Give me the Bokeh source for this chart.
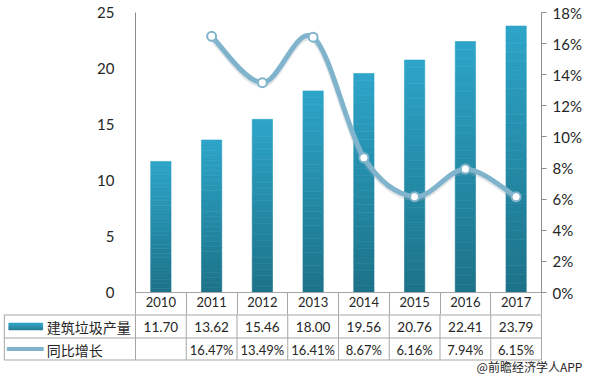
import numpy as np
from bokeh.plotting import figure
from bokeh.models import Range1d, LinearAxis, FixedTicker, PrintfTickFormatter
from bokeh.layouts import column
from bokeh.embed import file_html
from bokeh.resources import INLINE
from bokeh.core.properties import value

# ---------------- data ----------------
years = ["2010", "2011", "2012", "2013", "2014", "2015", "2016", "2017"]
output = [11.70, 13.62, 15.46, 18.00, 19.56, 20.76, 22.41, 23.79]
output_labels = ["11.70", "13.62", "15.46", "18.00", "19.56", "20.76", "22.41", "23.79"]
growth = [None, 16.47, 13.49, 16.41, 8.67, 6.16, 7.94, 6.15]
growth_labels = ["", "16.47%", "13.49%", "16.41%", "8.67%", "6.16%", "7.94%", "6.15%"]
left_ticks = [0, 5, 10, 15, 20, 25]
right_ticks = [0, 2, 4, 6, 8, 10, 12, 14, 16, 18]
series1_name = "建筑垃圾产量"
series2_name = "同比增长"
credit = "@前瞻经济学人APP"

# ---------------- layout constants ----------------
W = 584
FL, FR = 135, 542
TOP = 12
FB = 292
HDR = 22
CH = FB + HDR
TH = 376 - CH
NC = len(years)
PX = (FR - FL) / NC

BAR_BOT = np.array([0x1c, 0x72, 0x88])
BAR_TOP = np.array([0x2d, 0xa5, 0xc9])
LINE_C = "#80b4cd"
GRID_C = "#a6a6a6"
AX_C = "#8c8c8c"
TXT_C = "#262626"
NUM_FONT = "Lato"
CJK_FONT = "Noto Sans CJK SC"


def hexc(c):
    return "#%02x%02x%02x" % tuple(int(round(a)) for a in c)


# ---------------- chart ----------------
p = figure(width=W, height=CH, x_range=Range1d(0, NC), y_range=Range1d(0, 25),
           output_backend="svg", toolbar_location=None,
           x_axis_location="below", y_axis_location="left",
           min_border_left=FL, min_border_right=W - FR,
           min_border_top=TOP, min_border_bottom=HDR)
p.extra_y_ranges = {"pct": Range1d(0, 18)}
p.grid.visible = False
p.outline_line_color = None

# bottom axis = header row of the data table
xa = p.xaxis[0]
centers = [i + 0.5 for i in range(NC)]
xa.ticker = FixedTicker(ticks=centers, minor_ticks=list(range(NC + 1)))
xa.major_label_overrides = {c: y for c, y in zip(centers, years)}
xa.major_tick_line_color = None
xa.major_tick_out = 0
xa.minor_tick_in = 0
xa.minor_tick_out = HDR
xa.minor_tick_line_color = GRID_C
xa.axis_line_color = GRID_C
xa.major_label_text_font = NUM_FONT
xa.major_label_text_font_size = "13px"
xa.major_label_text_color = TXT_C
xa.major_label_standoff = 4 - HDR

ya = p.yaxis[0]
ya.ticker = FixedTicker(ticks=left_ticks)
ya.major_tick_line_color = None
ya.minor_tick_line_color = None
ya.axis_line_color = AX_C
ya.major_label_text_font = NUM_FONT
ya.major_label_text_font_size = "15px"
ya.major_label_text_color = TXT_C
ya.major_label_standoff = 15

ra = LinearAxis(y_range_name="pct", ticker=FixedTicker(ticks=right_ticks),
                formatter=PrintfTickFormatter(format="%d%%"))
ra.major_tick_line_color = AX_C
ra.major_tick_in = 0
ra.major_tick_out = 5
ra.minor_tick_line_color = None
ra.axis_line_color = AX_C
ra.major_label_text_font = NUM_FONT
ra.major_label_text_font_size = "15px"
ra.major_label_text_color = TXT_C
ra.major_label_standoff = 6
p.add_layout(ra, "right")

# gradient bars (each bar shaded from dark bottom to light top)
N = 30
xs, bots, tops, cols = [], [], [], []
for i, v in enumerate(output):
    for k in range(N):
        xs.append(i + 0.5)
        bots.append(v * k / N)
        tops.append(v * (k + 1) / N)
        t_ = (k + 0.5) / N
        cols.append(hexc(BAR_BOT + (BAR_TOP - BAR_BOT) * t_))
p.vbar(x=xs, bottom=bots, top=tops, width=0.4, fill_color=cols,
       line_color=cols, line_width=0.6)

# smooth line (Catmull-Rom style cubic Bezier segments)
pts = [(i + 0.5, g) for i, g in enumerate(growth) if g is not None]
P = np.array(pts)
n = len(P)
x0, y0, x1, y1, cx0, cy0, cx1, cy1 = [], [], [], [], [], [], [], []
for k in range(n - 1):
    pm = P[k - 1] if k > 0 else P[k]
    pa = P[k]
    pb = P[k + 1]
    pn = P[k + 2] if k + 2 < n else P[k + 1]
    c1 = pa + (pb - pm) / 6.0
    c2 = pb - (pn - pa) / 6.0
    x0.append(pa[0]); y0.append(pa[1]); x1.append(pb[0]); y1.append(pb[1])
    cx0.append(c1[0]); cy0.append(c1[1]); cx1.append(c2[0]); cy1.append(c2[1])
sh = 0.12
p.bezier(x0=x0, y0=[y - sh for y in y0], x1=x1, y1=[y - sh for y in y1],
         cx0=cx0, cy0=[y - sh for y in cy0], cx1=cx1, cy1=[y - sh for y in cy1],
         line_color="#9aaab4", line_alpha=0.3, line_width=6, line_cap="round",
         y_range_name="pct")
p.bezier(x0=x0, y0=y0, x1=x1, y1=y1, cx0=cx0, cy0=cy0, cx1=cx1, cy1=cy1,
         line_color=LINE_C, line_width=5, line_cap="round", y_range_name="pct")
p.scatter(x=P[:, 0], y=P[:, 1], size=9, fill_color="white", line_color=LINE_C,
          line_width=2, y_range_name="pct")

# ---------------- data table rows ----------------
def dx(px):
    return (px - FL) / PX


t = figure(width=W, height=TH, x_range=Range1d(0, NC), y_range=Range1d(TH, 0),
           output_backend="svg", toolbar_location=None,
           x_axis_location=None, y_axis_location=None,
           min_border_left=FL, min_border_right=W - FR,
           min_border_top=0, min_border_bottom=0)
t.grid.visible = False
t.outline_line_color = None

rows = [0.5, 23.5, 45.5]
left_edge = dx(3.5)
OV = "overlay"
t.segment(x0=[left_edge] * 3, y0=rows, x1=[NC] * 3, y1=rows,
          line_color=GRID_C, line_width=1, level=OV)
vx = list(range(NC + 1)) + [left_edge]
t.segment(x0=vx, y0=[0] * len(vx), x1=vx, y1=[rows[2]] * len(vx),
          line_color=GRID_C, line_width=1, level=OV)

r2c = (rows[0] + rows[1]) / 2
r3c = (rows[1] + rows[2]) / 2
t.text(x=centers, y=[r2c + 0.5] * NC, text=output_labels,
       text_font=value(NUM_FONT), text_font_size="13.5px", text_color=TXT_C,
       text_align="center", text_baseline="middle", level=OV)
t.text(x=centers, y=[r3c + 0.5] * NC, text=growth_labels,
       text_font=value(NUM_FONT), text_font_size="13px", text_color=TXT_C,
       text_align="center", text_baseline="middle", level=OV)

# legend keys
NK = 8
kb = [r2c + 3.5 - 7 * k / NK for k in range(NK)]
kt = [r2c + 3.5 - 7 * (k + 1) / NK for k in range(NK)]
kc = [hexc(BAR_BOT + (BAR_TOP - BAR_BOT) * ((k + 0.5) / NK)) for k in range(NK)]
t.quad(left=[dx(8)] * NK, right=[dx(42)] * NK, bottom=kb, top=kt,
       fill_color=kc, line_color=kc, line_width=0.5, level=OV)
t.line(x=[dx(6), dx(43)], y=[r3c, r3c], line_color=LINE_C, line_width=4, level=OV)
t.scatter(x=[dx(25)], y=[r3c], size=9, fill_color="white", line_color=LINE_C,
          line_width=2, level=OV)
t.text(x=[dx(46), dx(46)], y=[r2c + 0.5, r3c + 0.5], text=[series1_name, series2_name],
       text_font=value(CJK_FONT), text_font_size="14px", text_color=TXT_C,
       text_align="left", text_baseline="middle", level=OV)

t.text(x=[dx(583)], y=[TH - 10], text=[credit], text_font=value(CJK_FONT),
       text_font_size="12px", text_color=TXT_C, text_align="right",
       text_baseline="middle", level=OV)

layout = column(p, t, spacing=0)
open("out.html", "w").write(file_html(layout, INLINE))
